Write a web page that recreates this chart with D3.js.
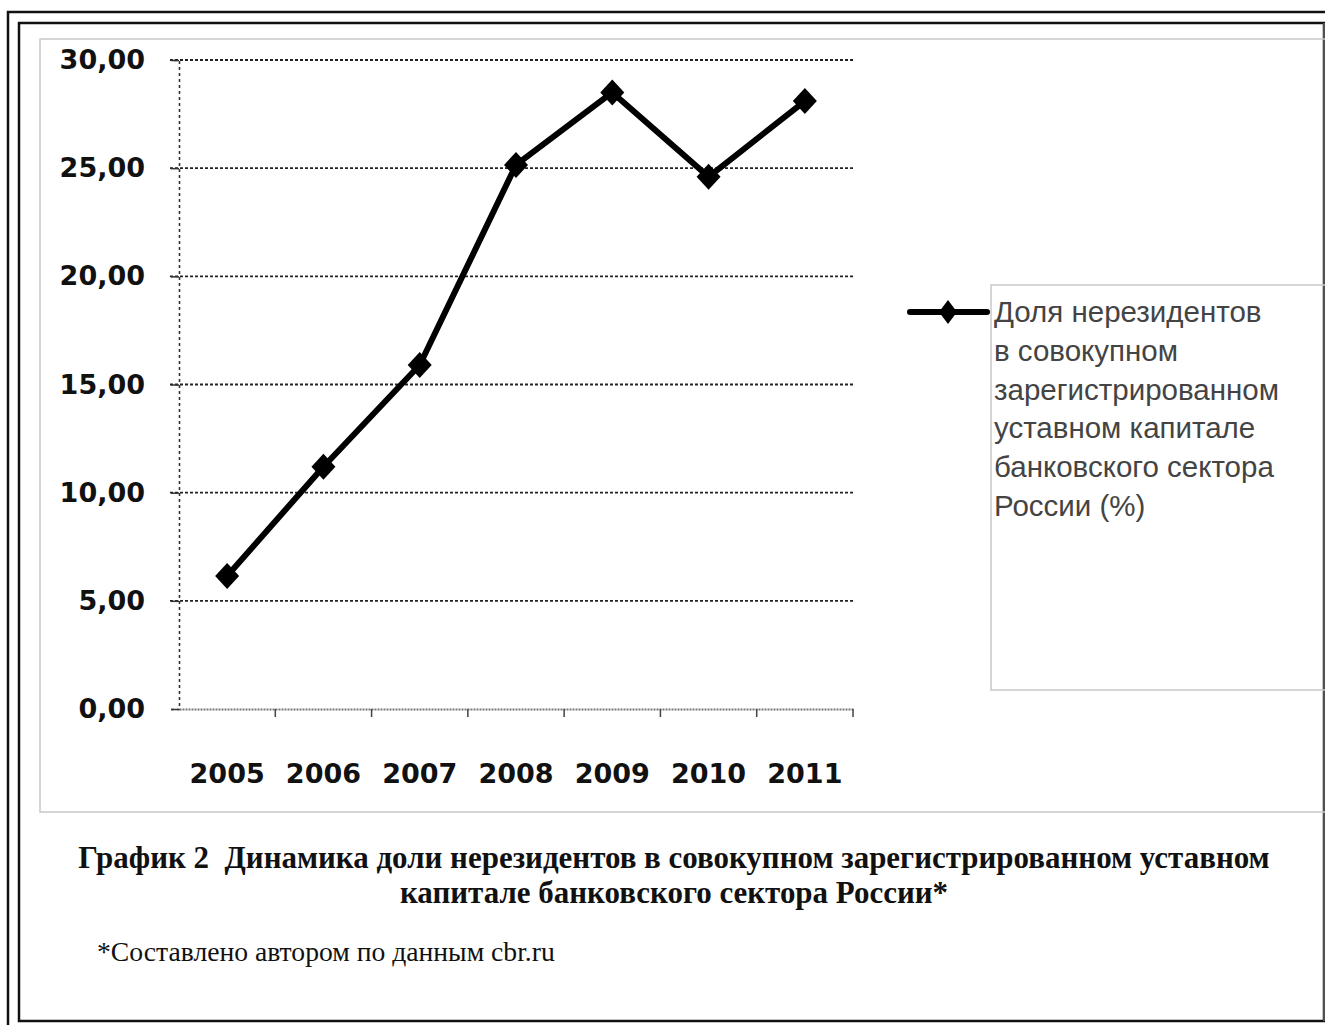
<!DOCTYPE html>
<html>
<head>
<meta charset="utf-8">
<script src="https://cdn.jsdelivr.net/npm/d3@7"></script>
<style>
  html, body { margin: 0; padding: 0; background: #fff; }
  svg { display: block; }
</style>
</head>
<body>
<svg id="chart"></svg>
<script>
// data
const years = ["2005", "2006", "2007", "2008", "2009", "2010", "2011"];
const shares = [6.15, 11.2, 15.9, 25.15, 28.5, 24.6, 28.1];
const yTicks = [0, 5, 10, 15, 20, 25, 30];
const legendLines = ["Доля нерезидентов", "в совокупном", "зарегистрированном",
  "уставном капитале", "банковского сектора", "России (%)"];
const captionLines = ["График 2  Динамика доли нерезидентов в совокупном зарегистрированном уставном",
  "капитале банковского сектора России*"];
const footnote = "*Составлено автором по данным cbr.ru";

const width = 1325, height = 1025;
const svg = d3.select("#chart").attr("width", width).attr("height", height);

// page frame (double border)
svg.append("rect").attr("x", 8).attr("y", 12).attr("width", 1330).attr("height", 1030)
  .attr("fill", "none").attr("stroke", "#111").attr("stroke-width", 2.5);
svg.append("rect").attr("x", 19).attr("y", 23).attr("width", 1305).attr("height", 998)
  .attr("fill", "none").attr("stroke", "#111").attr("stroke-width", 2.5);
svg.append("line").attr("x1", 1324).attr("x2", 1324).attr("y1", 23).attr("y2", 1021)
  .attr("stroke", "#666").attr("stroke-width", 1.5);

// chart area
svg.append("rect").attr("x", 40).attr("y", 39).attr("width", 1300).attr("height", 773)
  .attr("fill", "none").attr("stroke", "#c8c8c8").attr("stroke-width", 1.5);

const x = d3.scaleBand().domain(years).range([179, 853]);
const y = d3.scaleLinear().domain([0, 30]).range([709, 60]);

// gridlines
svg.append("g").selectAll("line").data(yTicks.slice(1)).join("line")
  .attr("x1", 170).attr("x2", 853)
  .attr("y1", d => y(d)).attr("y2", d => y(d))
  .attr("stroke", "#222").attr("stroke-width", 1.8)
  .attr("stroke-dasharray", "3,2");

// y axis
const yAxis = svg.append("g").attr("transform", "translate(179,0)")
  .call(d3.axisLeft(y).tickValues(yTicks).tickSize(8).tickPadding(26)
    .tickFormat(d => d3.format(".2f")(d).replace(".", ",")));
yAxis.select(".domain").attr("stroke", "#333").attr("stroke-width", 1.6).attr("stroke-dasharray", "3,3");
yAxis.selectAll(".tick line").attr("stroke", "#333").attr("stroke-width", 1.5);
yAxis.selectAll("text").attr("font-family", "DejaVu Sans, sans-serif")
  .attr("font-size", 27).attr("font-weight", "bold").attr("fill", "#111");

// x axis
const xAxis = svg.append("g").attr("transform", "translate(0,709)")
  .call(d3.axisBottom(x).tickSizeOuter(0).tickSize(0).tickPadding(55));
xAxis.select(".domain").attr("stroke", "#777").attr("stroke-width", 2).attr("stroke-dasharray", "2,1");
xAxis.selectAll("text").attr("font-family", "DejaVu Sans, sans-serif")
  .attr("font-size", 27).attr("font-weight", "bold").attr("fill", "#111");
// boundary ticks between categories
svg.append("g").selectAll("line").data(years).join("line")
  .attr("x1", d => x(d) + x.bandwidth()).attr("x2", d => x(d) + x.bandwidth())
  .attr("y1", 709).attr("y2", 717)
  .attr("stroke", "#444").attr("stroke-width", 1.5);

// line
const cx = (d, i) => x(years[i]) + x.bandwidth() / 2;
svg.append("path")
  .datum(shares)
  .attr("d", d3.line().x(cx).y(d => y(d)))
  .attr("fill", "none").attr("stroke", "#000").attr("stroke-width", 6)
  .attr("stroke-linejoin", "round");

const diamond = (w, h) => `M0,${-h}L${w},0L0,${h}L${-w},0Z`;
svg.append("g").selectAll("path").data(shares).join("path")
  .attr("transform", (d, i) => `translate(${cx(d, i)},${y(d)})`)
  .attr("d", diamond(12, 13))
  .attr("fill", "#000");

// legend
svg.append("rect").attr("x", 991).attr("y", 285).attr("width", 360).attr("height", 405)
  .attr("fill", "none").attr("stroke", "#c8c8c8").attr("stroke-width", 1.5);
svg.append("line").attr("x1", 910).attr("x2", 987).attr("y1", 312).attr("y2", 312)
  .attr("stroke", "#000").attr("stroke-width", 6).attr("stroke-linecap", "round");
svg.append("path").attr("transform", "translate(948,312)").attr("d", diamond(9, 12)).attr("fill", "#000");
svg.append("g").selectAll("text").data(legendLines).join("text")
  .attr("x", 994).attr("y", (d, i) => 322 + i * 38.8)
  .attr("font-family", "Liberation Sans, Arial, sans-serif")
  .attr("font-size", 29.5).attr("fill", "#444")
  .text(d => d);

// fit a text element's font size to a target width
function fitWidth(sel, target) {
  const node = sel.node();
  const fs = +sel.attr("font-size");
  const w = node.getComputedTextLength();
  sel.attr("font-size", fs * target / w);
  return fs * target / w;
}

// caption
const cap = svg.append("g").selectAll("text").data(captionLines).join("text")
  .attr("x", 674).attr("y", (d, i) => 868 + i * 35)
  .attr("text-anchor", "middle")
  .attr("font-family", "Liberation Serif, serif")
  .attr("font-weight", "bold").attr("font-size", 26).attr("fill", "#111")
  .attr("xml:space", "preserve")
  .text(d => d);
const capSize = fitWidth(d3.select(cap.nodes()[0]), 1192);
cap.attr("font-size", capSize);

const foot = svg.append("text").attr("x", 97).attr("y", 961)
  .attr("font-family", "Liberation Serif, serif")
  .attr("font-size", 22).attr("fill", "#111")
  .text(footnote);
fitWidth(foot, 458);
</script>
</body>
</html>
